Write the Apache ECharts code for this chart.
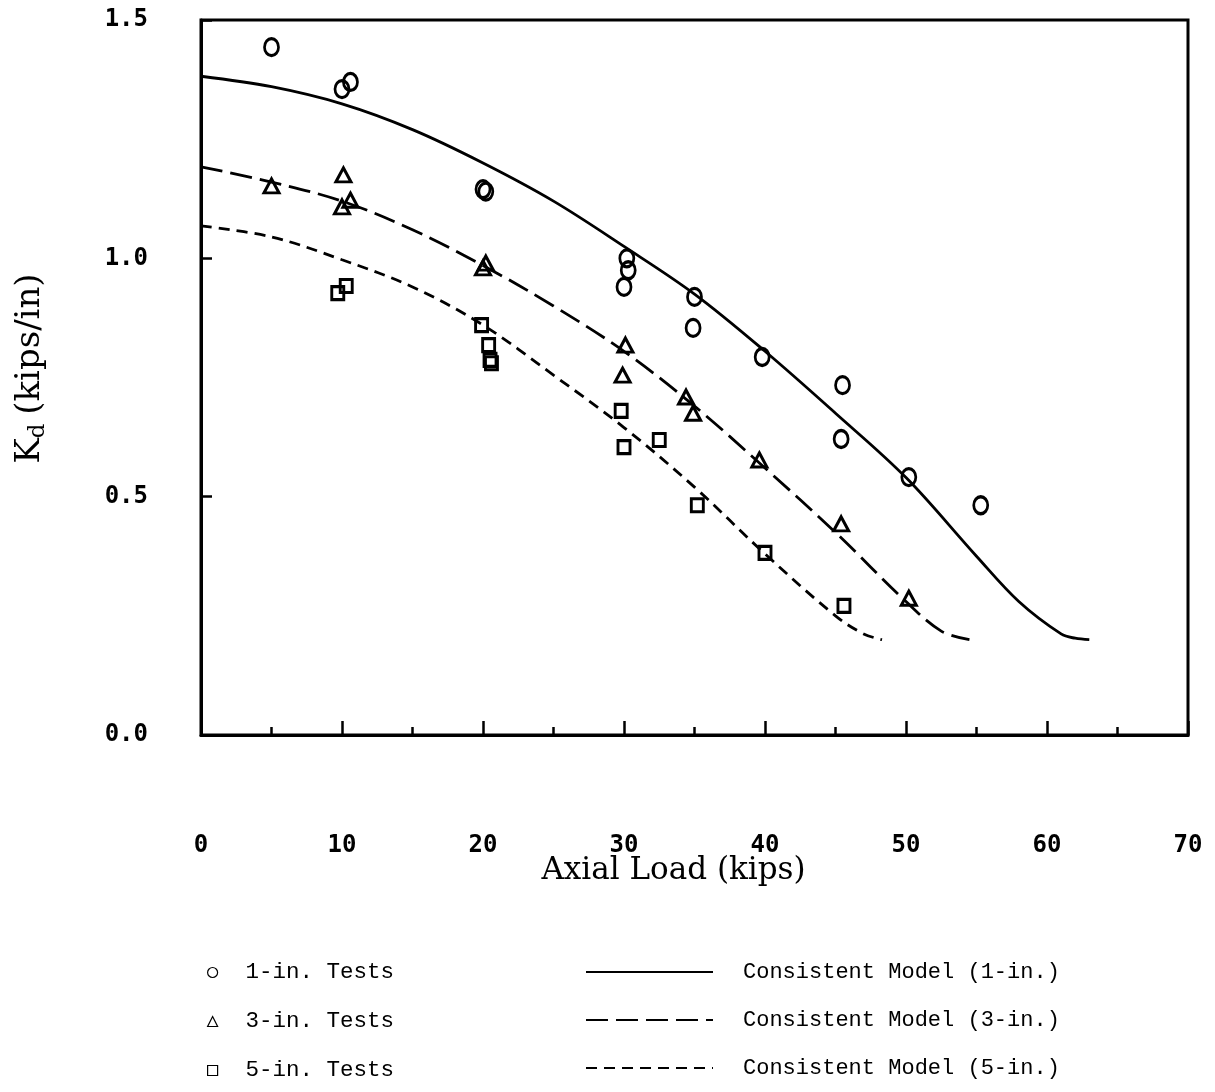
<!DOCTYPE html>
<html>
<head>
<meta charset="utf-8">
<script src="https://cdn.jsdelivr.net/npm/echarts@6/dist/echarts.min.js"></script>
<style>
  html, body { margin: 0; padding: 0; background: #fff; }
  #chart { width: 1215px; height: 1092px; }
</style>
</head>
<body>
<div id="chart"></div>
<script>
// ---- Data ----
const xTicks = [0, 10, 20, 30, 40, 50, 60, 70];
const yTicks = [0.0, 0.5, 1.0, 1.5];

// 1-in. tests (circles)
const tests1X = [5, 10, 10.6, 20, 20.2, 30.2, 30.3, 30, 35, 34.9, 39.8, 45.5, 45.4, 50.2, 55.3];
const tests1Y = [1.443, 1.355, 1.37, 1.145, 1.14, 1.0, 0.975, 0.94, 0.919, 0.854, 0.793, 0.734, 0.621, 0.541, 0.482];

// 3-in. tests (triangles)
const tests3X = [5, 10.1, 10, 10.6, 20, 20.2, 30.1, 29.9, 34.4, 34.9, 39.6, 45.4, 50.2];
const tests3Y = [1.152, 1.175, 1.108, 1.122, 0.98, 0.99, 0.818, 0.755, 0.709, 0.675, 0.577, 0.443, 0.287];

// 5-in. tests (squares)
const tests5X = [9.7, 10.3, 19.9, 20.4, 20.5, 20.6, 29.8, 30, 32.5, 35.2, 40, 45.6];
const tests5Y = [0.927, 0.942, 0.86, 0.818, 0.787, 0.78, 0.68, 0.604, 0.619, 0.482, 0.382, 0.271];

// Consistent model curves
const model1X = [0, 5, 10, 15, 20, 25, 30, 35, 40, 45, 50, 55, 58, 61, 62, 63];
const model1Y = [1.382, 1.36, 1.324, 1.27, 1.2, 1.12, 1.025, 0.925, 0.805, 0.675, 0.54, 0.375, 0.28, 0.212, 0.203, 0.2];

const model3X = [0, 5, 10, 15, 20, 25, 30, 35, 40, 45, 50, 52.5, 54.5];
const model3Y = [1.192, 1.16, 1.12, 1.06, 0.985, 0.9, 0.805, 0.69, 0.56, 0.425, 0.28, 0.218, 0.2];

const model5X = [0, 5, 10, 15, 20, 25, 30, 35, 40, 45, 47, 48.3];
const model5Y = [1.068, 1.045, 0.997, 0.94, 0.86, 0.755, 0.645, 0.52, 0.38, 0.25, 0.212, 0.2];

const names = {
  t1: '1-in. Tests', t3: '3-in. Tests', t5: '5-in. Tests',
  m1: 'Consistent Model (1-in.)', m3: 'Consistent Model (3-in.)', m5: 'Consistent Model (5-in.)'
};

// ---- Build chart ----
const zip = (xs, ys) => xs.map((x, i) => [x, ys[i]]);
const tickFont = '"DejaVu Sans Mono", monospace';
const legendFont = '"Liberation Mono", "DejaVu Sans Mono", monospace';
const serif = '"DejaVu Serif", "Liberation Serif", serif';

const markerStyle = { color: 'rgba(0,0,0,0)', borderColor: '#000', borderWidth: 3, opacity: 1 };

function scatter(name, xs, ys, symbol, size) {
  return {
    name, type: 'scatter', data: zip(xs, ys), symbol, symbolSize: size,
    itemStyle: markerStyle, z: 3, emphasis: { disabled: true }
  };
}
function curve(name, xs, ys, type) {
  return {
    name, type: 'line', data: zip(xs, ys), smooth: 0.35, symbol: 'none', showSymbol: false,
    itemStyle: { color: 'rgba(0,0,0,0)', borderWidth: 0 },
    lineStyle: { color: '#000', width: 2.8, type }, z: 2, emphasis: { disabled: true }
  };
}

const chart = echarts.init(document.getElementById('chart'), null, { renderer: 'canvas' });
chart.setOption({
  animation: false,
  backgroundColor: '#fff',
  grid: {
    left: 201, right: 27, top: 20, bottom: 357,
    show: true, borderColor: '#000', borderWidth: 3, backgroundColor: 'transparent'
  },
  xAxis: {
    type: 'value', min: xTicks[0], max: xTicks[xTicks.length - 1], interval: 10,
    name: 'Axial Load (kips)', nameLocation: 'middle', nameGap: 120, nameMoveOverlap: false,
    nameTextStyle: { fontFamily: serif, fontSize: 31, color: '#000', padding: [0, 42, 0, 0] },
    axisLine: { lineStyle: { color: '#000', width: 3 } },
    axisTick: { inside: true, length: 14, lineStyle: { color: '#000', width: 2.5 } },
    minorTick: { show: true, splitNumber: 2, length: 8, lineStyle: { color: '#000', width: 2.5 } },
    axisLabel: { margin: 99, fontFamily: tickFont, fontWeight: 'bold', fontSize: 24, color: '#000',
      formatter: v => String(v) },
    splitLine: { show: false }
  },
  yAxis: {
    type: 'value', min: yTicks[0], max: yTicks[yTicks.length - 1], interval: 0.5,
    name: '{k|K}{s|d}  {k|(kips/in)}', nameLocation: 'middle', nameGap: 151, nameRotate: 90,
    nameMoveOverlap: false,
    nameTextStyle: {
      color: '#000', padding: [0, 0, 0, 18],
      rich: {
        k: { fontFamily: serif, fontSize: 34, color: '#000' },
        s: { fontFamily: serif, fontSize: 23, color: '#000', verticalAlign: 'bottom', padding: [16, 2, 0, 0] }
      }
    },
    axisLine: { lineStyle: { color: '#000', width: 3 } },
    axisTick: { inside: true, length: 11, lineStyle: { color: '#000', width: 2.5 } },
    axisLabel: { margin: 53, fontFamily: tickFont, fontWeight: 'bold', fontSize: 24, color: '#000',
      padding: [5, 0, 0, 0], formatter: v => v.toFixed(1) },
    splitLine: { show: false }
  },
  legend: [
    {
      orient: 'vertical', left: 207, top: 961, padding: 0, itemGap: 26,
      itemWidth: 10, itemHeight: 10, selectedMode: false,
      itemStyle: { color: 'rgba(0,0,0,0)', borderColor: '#000', borderWidth: 1.2, opacity: 1 },
      textStyle: { fontFamily: legendFont, fontSize: 22.5, color: '#000', lineHeight: 22, padding: [0, 0, 0, 23] },
      data: [
        { name: names.t1, icon: 'circle' },
        { name: names.t3, icon: 'triangle' },
        { name: names.t5, icon: 'rect' }
      ]
    },
    {
      orient: 'vertical', left: 585, top: 961, padding: 0, itemGap: 26,
      itemWidth: 127, itemHeight: 14, selectedMode: false,
      lineStyle: { width: 2 },
      itemStyle: { color: 'rgba(0,0,0,0)', borderWidth: 0 },
      textStyle: { fontFamily: legendFont, fontSize: 22, color: '#000', lineHeight: 22, padding: [0, 0, 0, 25] },
      data: [names.m1, names.m3, names.m5]
    }
  ],
  series: [
    curve(names.m1, model1X, model1Y, 'solid'),
    curve(names.m3, model3X, model3Y, [22, 8]),
    curve(names.m5, model5X, model5Y, [11, 7]),
    scatter(names.t1, tests1X, tests1Y, 'circle', [14, 17]),
    scatter(names.t3, tests3X, tests3Y, 'triangle', [15, 14]),
    scatter(names.t5, tests5X, tests5Y, 'rect', [12, 13])
  ]
});
</script>
</body>
</html>
